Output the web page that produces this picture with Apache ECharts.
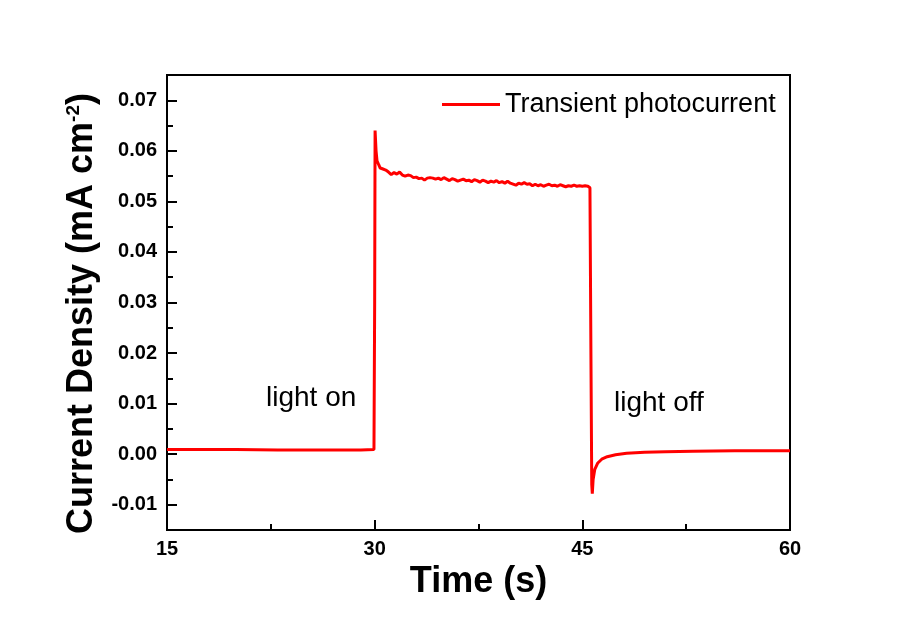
<!DOCTYPE html>
<html>
<head>
<meta charset="utf-8">
<script src="https://cdn.jsdelivr.net/npm/echarts@6/dist/echarts.min.js"></script>
<style>
  html, body { margin: 0; padding: 0; background: #fff; }
  #chart { width: 897px; height: 628px; }
</style>
</head>
<body>
<div id="chart"></div>
<script>
// time (s) / current density (mA cm-2)
var seriesName = 'Transient photocurrent';
var majorY = [-0.01, 0, 0.01, 0.02, 0.03, 0.04, 0.05, 0.06, 0.07];
var minorY = [-0.015, -0.005, 0.005, 0.015, 0.025, 0.035, 0.045, 0.055, 0.065, 0.075];
var photocurrent = [
  [15, 0.0009], [17, 0.0009], [20, 0.0009], [23, 0.0008], [26, 0.0008], [29, 0.0008], [29.95, 0.0009],
  [30.0, 0.03], [30.03, 0.064], [30.1, 0.060], [30.17, 0.058], [30.3, 0.0572], [30.4, 0.0566],
  [30.6, 0.0564], [30.8, 0.0562], [31.0, 0.0558], [31.2, 0.0553], [31.4, 0.0557], [31.6, 0.0554],
  [31.8, 0.0558], [32.0, 0.0552], [32.2, 0.0550], [32.4, 0.0552], [32.6, 0.0551], [32.8, 0.0547],
  [33.0, 0.0548], [33.2, 0.0545], [33.4, 0.0546], [33.6, 0.0542], [33.8, 0.0546], [34.0, 0.0547],
  [34.2, 0.0546], [34.4, 0.0544], [34.6, 0.0546], [34.8, 0.0543], [35.0, 0.0547], [35.2, 0.0544],
  [35.4, 0.0541], [35.6, 0.0545], [35.8, 0.0543], [36.0, 0.0540], [36.2, 0.0542], [36.4, 0.0544],
  [36.6, 0.0541], [36.8, 0.0542], [37.0, 0.0539], [37.2, 0.0543], [37.4, 0.0541], [37.6, 0.0538],
  [37.8, 0.0542], [38.0, 0.0540], [38.2, 0.0537], [38.4, 0.0540], [38.6, 0.0538], [38.8, 0.0541],
  [39.0, 0.0537], [39.2, 0.0539], [39.4, 0.0536], [39.6, 0.0540], [39.8, 0.0536], [40.0, 0.0534],
  [40.2, 0.0532], [40.4, 0.0536], [40.6, 0.0534], [40.8, 0.0537], [41.0, 0.0534], [41.2, 0.0535],
  [41.4, 0.0531], [41.6, 0.0534], [41.8, 0.0531], [42.0, 0.0533], [42.2, 0.0530], [42.4, 0.0532],
  [42.6, 0.0534], [42.8, 0.0531], [43.0, 0.0532], [43.2, 0.0530], [43.4, 0.0533], [43.6, 0.0531],
  [43.8, 0.0529], [44.0, 0.0531], [44.2, 0.0530], [44.4, 0.0532], [44.6, 0.0530], [44.8, 0.0531],
  [45.0, 0.0530], [45.2, 0.0531], [45.4, 0.0530], [45.55, 0.0527],
  [45.62, 0.02], [45.68, -0.006], [45.72, -0.0078], [45.78, -0.005], [45.9, -0.0030], [46.1, -0.0018],
  [46.4, -0.0010], [46.8, -0.0005], [47.4, -0.0001], [48.2, 0.0002], [49.5, 0.0004], [51, 0.0005],
  [53, 0.0006], [56, 0.0007], [60, 0.0007]
];

var chart = echarts.init(document.getElementById('chart'));
var font = 'Liberation Sans, Arial, sans-serif';

var option = {
  backgroundColor: '#fff',
  animation: false,
  grid: {
    left: 167, right: 107, top: 75, bottom: 98,
    show: true, borderColor: '#000', borderWidth: 2
  },
  legend: {
    left: 437, top: 86,
    icon: 'rect', itemWidth: 58, itemHeight: 3, itemGap: 8,
    textStyle: { fontFamily: font, fontSize: 27, color: '#000' },
    data: [seriesName]
  },
  xAxis: {
    type: 'value', min: 15, max: 60, interval: 15,
    name: 'Time (s)', nameLocation: 'middle', nameGap: 27,
    nameTextStyle: { fontFamily: font, fontSize: 36, fontWeight: 'bold', color: '#000' },
    axisLine: { onZero: false, lineStyle: { color: '#000', width: 2 } },
    axisTick: { inside: true, length: 10, lineStyle: { color: '#000', width: 2 } },
    minorTick: { show: true, splitNumber: 2, length: 6, lineStyle: { color: '#000', width: 2 } },
    axisLabel: { fontFamily: font, fontSize: 20, fontWeight: 'bold', color: '#000', margin: 9 },
    splitLine: { show: false }
  },
  yAxis: [{
    type: 'value', min: -0.015, max: 0.075, interval: 0.005,
    name: '{a|Current Density (mA cm}{s|-2}{a|)}',
    nameLocation: 'middle', nameGap: 63, nameRotate: 90,
    nameTextStyle: {
      padding: [0, 22, 0, 0],
      rich: {
        a: { fontFamily: font, fontSize: 36, fontWeight: 'bold', color: '#000' },
        s: { fontFamily: font, fontSize: 19, fontWeight: 'bold', color: '#000', verticalAlign: 'top', padding: [0, 0, 18, 0] }
      }
    },
    axisLine: { onZero: false, lineStyle: { color: '#000', width: 2 } },
    axisTick: { inside: true, length: 10, customValues: majorY, lineStyle: { color: '#000', width: 2 } },
    axisLabel: {
      customValues: majorY, fontFamily: font, fontSize: 20, fontWeight: 'bold', color: '#000', margin: 10,
      formatter: function (v) { return v.toFixed(2); }
    },
    splitLine: { show: false }
  }, {
    type: 'value', min: -0.015, max: 0.075, interval: 0.005, position: 'left',
    axisLine: { show: false },
    axisTick: { inside: true, length: 6, customValues: minorY, lineStyle: { color: '#000', width: 2 } },
    axisLabel: { show: false },
    splitLine: { show: false }
  }],
  graphic: [
    { type: 'text', left: 266, top: 384, style: { text: 'light on', fontFamily: font, fontSize: 28, fill: '#000' } },
    { type: 'text', left: 614, top: 389, style: { text: 'light off', fontFamily: font, fontSize: 28, fill: '#000' } }
  ],
  series: [{
    name: seriesName,
    type: 'line',
    data: photocurrent,
    showSymbol: false,
    symbol: 'none',
    lineStyle: { color: '#ff0000', width: 3 },
    itemStyle: { color: '#ff0000' }
  }]
};
chart.setOption(option);
</script>
</body>
</html>
